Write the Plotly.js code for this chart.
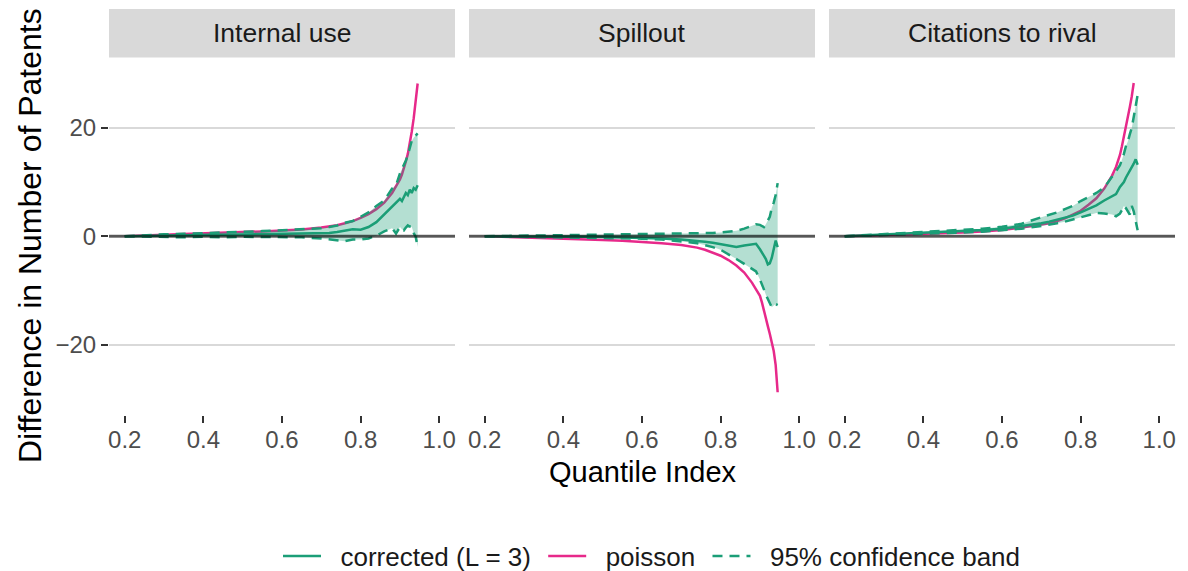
<!DOCTYPE html>
<html>
<head>
<meta charset="utf-8">
<script src="https://cdn.plot.ly/plotly-3.0.1.min.js"></script>
<style>html,body{margin:0;padding:0;background:#fff;}#chart{width:1188px;height:571px;}</style>
</head>
<body>
<div id="chart"></div>
<script>
// ---- data ----
const panelNames = ["Internal use", "Spillout", "Citations to rival"];
const legendNames = ["corrected (L = 3)", "poisson", "95% confidence band"];
const quantiles = [0.20,0.25,0.30,0.35,0.40,0.45,0.50,0.55,0.60,0.65,0.70,
  0.72,0.74,0.76,0.78,0.80,0.82,0.84,0.86,0.88,
  0.89,0.90,0.905,0.91,0.915,0.92,0.925,0.93,0.935,0.94,0.945];

const internalCorrected = [0.0,0.05,0.1,0.15,0.2,0.2,0.3,0.3,0.4,0.45,0.5,
  0.6,0.8,1.0,1.3,1.2,1.7,2.6,4.0,5.4,
  6.2,6.9,6.5,7.4,8.0,7.6,8.6,8.0,8.9,8.6,9.4];
const internalPoisson = [0.0,0.2,0.3,0.4,0.5,0.6,0.75,0.9,1.05,1.25,1.6,
  1.8,2.05,2.4,2.8,3.4,4.1,5.0,6.2,8.0,
  9.2,10.5,11.4,12.5,13.8,15.2,17.0,19.3,21.8,24.6,28.2];
const internalLower = [0.0,-0.1,-0.15,-0.2,-0.1,-0.2,-0.1,-0.15,-0.1,-0.2,-0.4,
  -0.6,-0.8,-0.9,-0.6,-0.6,-0.4,0.1,0.9,1.5,
  0.5,1.7,1.3,1.1,1.6,2.0,1.8,1.7,0.6,-0.1,-2.0];
const internalUpper = [0.0,0.2,0.35,0.45,0.55,0.65,0.8,0.95,1.1,1.25,1.5,
  1.7,2.0,2.5,2.8,3.6,4.4,5.6,6.6,8.8,
  9.4,11.6,12.4,13.0,14.0,15.0,16.4,17.6,18.2,18.6,19.0];

const spillCorrected = [0.0,0.0,0.0,-0.05,-0.1,-0.1,-0.15,-0.2,-0.25,-0.4,-0.6,
  -0.7,-0.9,-1.0,-1.2,-1.5,-1.7,-2.0,-1.7,-1.5,
  -1.4,-2.4,-3.0,-3.6,-4.2,-5.2,-5.0,-4.0,-2.4,-0.8,-2.0];
const spillPoisson = [0.0,-0.1,-0.2,-0.3,-0.4,-0.55,-0.7,-0.85,-1.05,-1.3,-1.6,
  -1.8,-2.1,-2.5,-3.0,-3.6,-4.4,-5.4,-6.7,-8.6,
  -9.8,-11.0,-12.2,-13.5,-15.0,-16.6,-18.0,-19.6,-21.2,-23.8,-28.8];
const spillLower = [0.0,-0.05,-0.1,-0.15,-0.2,-0.25,-0.3,-0.35,-0.45,-0.6,-0.9,
  -1.1,-1.3,-1.6,-2.0,-2.5,-3.3,-4.2,-5.1,-6.0,
  -6.5,-8.0,-8.8,-9.8,-10.8,-11.6,-12.4,-13.1,-12.8,-12.5,-12.7];
const spillUpper = [0.0,0.05,0.1,0.15,0.15,0.2,0.2,0.25,0.3,0.35,0.4,
  0.45,0.5,0.55,0.6,0.7,0.8,1.0,1.4,1.9,
  2.2,2.1,1.9,1.7,2.2,2.8,3.6,5.2,6.2,7.6,9.8];

const rivalCorrected = [0.0,0.15,0.35,0.5,0.65,0.8,0.95,1.15,1.4,1.85,2.4,
  2.7,3.1,3.4,3.8,4.4,5.0,5.7,6.6,7.3,
  7.8,9.1,9.6,10.0,10.8,11.4,12.0,12.8,13.4,14.2,13.2];
const rivalPoisson = [0.0,0.1,0.2,0.3,0.45,0.55,0.7,0.9,1.15,1.6,2.1,
  2.4,2.8,3.3,4.0,4.7,5.8,7.0,8.8,11.2,
  12.8,15.0,16.6,18.3,20.2,22.0,23.8,25.8,28.3,null,null];
const rivalLower = [0.0,0.1,0.25,0.35,0.45,0.55,0.7,0.85,1.1,1.4,1.9,
  2.1,2.4,2.7,3.1,3.6,4.0,4.3,4.2,4.0,
  3.7,4.2,4.8,5.6,5.2,4.6,4.0,5.6,4.6,2.8,1.1];
const rivalUpper = [0.0,0.2,0.45,0.65,0.8,1.0,1.2,1.4,1.75,2.3,3.5,
  3.9,4.4,5.0,5.6,6.5,7.2,8.0,9.0,10.9,
  12.0,13.1,14.0,15.2,16.6,17.5,18.8,20.0,22.0,24.2,26.1];

const xTicks = [0.2, 0.4, 0.6, 0.8, 1.0];
const xTickText = ["0.2", "0.4", "0.6", "0.8", "1.0"];
const yTicks = [-20, 0, 20];
const yTickText = ["\u221220", "0", "20"];

// ---- styling ----
const GREEN = "#1B9E77", PINK = "#E7298A";
const FILL = "rgba(27,158,119,0.33)";
const FONT = "Liberation Sans, Arial, sans-serif";
const dashPat = "10px,7px";
const GAP = "\u00A0\u00A0";

const panels = [
  {corr: internalCorrected, pois: internalPoisson, lo: internalLower, hi: internalUpper},
  {corr: spillCorrected, pois: spillPoisson, lo: spillLower, hi: spillUpper},
  {corr: rivalCorrected, pois: rivalPoisson, lo: rivalLower, hi: rivalUpper}
];

const W = 1188, H = 571;
const px = v => v / W, py = v => 1 - v / H;
const xDomains = [[px(109), px(455)], [px(469), px(815)], [px(829), px(1175)]];
const yDomain = [py(415), py(57.5)];

const traces = [];
panels.forEach((p, i) => {
  const xa = i === 0 ? "x" : "x" + (i + 1);
  const ya = i === 0 ? "y" : "y" + (i + 1);
  traces.push({x: quantiles, y: p.pois, xaxis: xa, yaxis: ya, type: "scatter", mode: "lines",
    name: GAP + legendNames[1] + "\u00A0", legendgroup: "p", showlegend: i === 0, legendrank: 2,
    line: {color: PINK, width: 2.5}, hoverinfo: "skip"});
  traces.push({x: quantiles, y: p.corr, xaxis: xa, yaxis: ya, type: "scatter", mode: "lines",
    name: GAP + legendNames[0] + "\u00A0", legendgroup: "c", showlegend: i === 0, legendrank: 1,
    line: {color: GREEN, width: 2.5}, hoverinfo: "skip"});
  traces.push({x: quantiles, y: p.lo, xaxis: xa, yaxis: ya, type: "scatter", mode: "lines",
    showlegend: false, line: {width: 0, color: "rgba(0,0,0,0)"}, hoverinfo: "skip"});
  traces.push({x: quantiles, y: p.hi, xaxis: xa, yaxis: ya, type: "scatter", mode: "lines",
    showlegend: false, fill: "tonexty", fillcolor: FILL,
    line: {width: 0, color: "rgba(0,0,0,0)"}, hoverinfo: "skip"});
  traces.push({x: quantiles, y: p.lo, xaxis: xa, yaxis: ya, type: "scatter", mode: "lines",
    name: GAP + legendNames[2], legendgroup: "b", showlegend: i === 0, legendrank: 3,
    line: {color: GREEN, width: 2.5, dash: dashPat}, hoverinfo: "skip"});
  traces.push({x: quantiles, y: p.hi, xaxis: xa, yaxis: ya, type: "scatter", mode: "lines",
    legendgroup: "b", showlegend: false,
    line: {color: GREEN, width: 2.5, dash: dashPat}, hoverinfo: "skip"});
});

const layout = {
  width: W, height: H,
  margin: {l: 0, r: 0, t: 0, b: 0, autoexpand: false},
  paper_bgcolor: "#fff", plot_bgcolor: "#fff",
  font: {family: FONT, color: "#4D4D4D"},
  showlegend: true,
  legend: {orientation: "h", xref: "container", yref: "container",
    x: px(652), xanchor: "center", y: py(556), yanchor: "middle",
    font: {size: 26, color: "#1A1A1A", family: FONT}, itemwidth: 38, traceorder: "normal",
    bgcolor: "rgba(0,0,0,0)"},
  shapes: [],
  annotations: []
};

panels.forEach((p, i) => {
  const sx = i === 0 ? "" : String(i + 1);
  layout["xaxis" + sx] = {
    domain: xDomains[i], anchor: "y" + sx, range: [0.16, 1.04],
    tickvals: xTicks, ticktext: xTickText, ticks: "outside", ticklen: 7, tickwidth: 2,
    tickcolor: "#333333", showgrid: false, zeroline: false, showline: false,
    ticklabelstandoff: -4, automargin: false,
    tickfont: {size: 24, color: "#4D4D4D", family: FONT}, fixedrange: true
  };
  layout["yaxis" + sx] = {
    domain: yDomain, anchor: "x" + sx, range: [-33, 33],
    tickvals: yTicks, ticktext: yTickText,
    ticks: i === 0 ? "outside" : "", ticklen: 7, tickwidth: 2, tickcolor: "#333333",
    showticklabels: i === 0, showgrid: true, gridcolor: "#D9D9D9", gridwidth: 2,
    zeroline: false, showline: false, automargin: false,
    tickfont: {size: 24, color: "#4D4D4D", family: FONT}, fixedrange: true
  };
  layout.shapes.push({type: "rect", xref: "x" + sx + " domain", yref: "paper",
    x0: 0, x1: 1, y0: py(57.5), y1: py(9), fillcolor: "#D9D9D9", line: {width: 0}, layer: "below"});
  layout.annotations.push({xref: "x" + sx + " domain", yref: "paper", x: 0.5, y: py(33),
    text: panelNames[i], showarrow: false, xanchor: "center", yanchor: "middle",
    font: {size: 26.5, color: "#1A1A1A", family: FONT}});
  layout.shapes.push({type: "line", xref: "x" + sx + " domain", yref: "y" + sx,
    x0: 0, x1: 1, y0: 0, y1: 0, line: {color: "rgba(0,0,0,0.6)", width: 3}, layer: "above"});
});

layout.annotations.push({xref: "paper", yref: "paper", x: px(643), y: py(472),
  text: "Quantile Index", showarrow: false, xanchor: "center", yanchor: "middle",
  font: {size: 29, color: "#000000", family: FONT}});
layout.annotations.push({xref: "paper", yref: "paper", x: px(30), y: py(236),
  text: "Difference in Number of Patents", showarrow: false, textangle: -90,
  xanchor: "center", yanchor: "middle",
  font: {size: 32, color: "#000000", family: FONT}});

Plotly.newPlot("chart", traces, layout, {displayModeBar: false, staticPlot: true});
</script>
</body>
</html>
